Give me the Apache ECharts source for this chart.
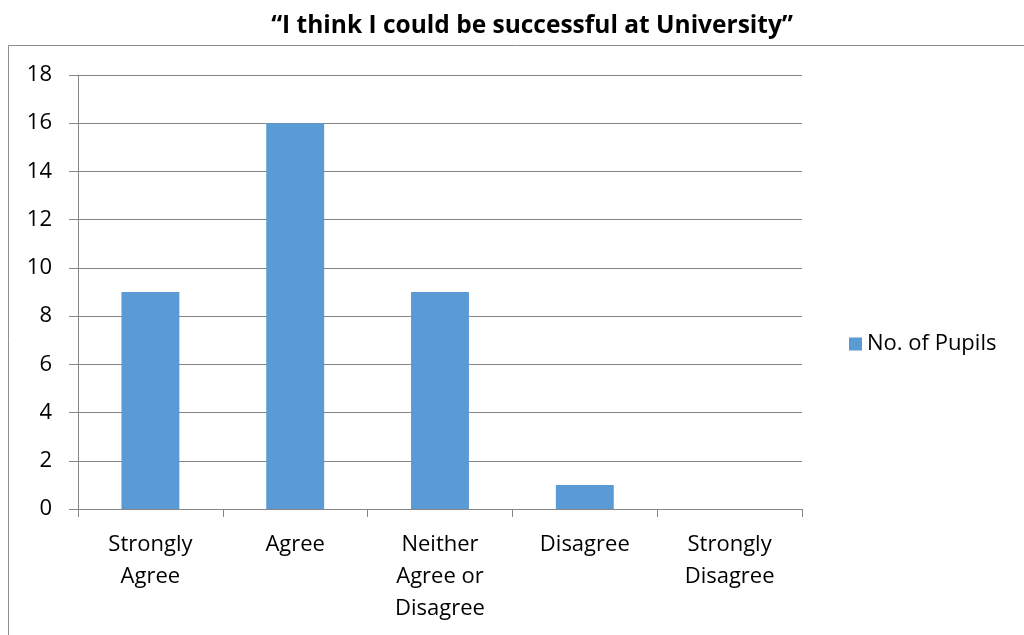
<!DOCTYPE html>
<html><head><meta charset="utf-8">
<script src="https://cdn.jsdelivr.net/npm/echarts@6/dist/echarts.min.js"></script>
<style>html,body{margin:0;padding:0;background:#fff}#c{width:1024px;height:635px}</style>
</head><body><div id="c"></div>
<script>
const categories = ['Strongly\nAgree', 'Agree', 'Neither\nAgree or\nDisagree', 'Disagree', 'Strongly\nDisagree'];
const pupils = [9, 16, 9, 1, 0];
const seriesName = 'No. of Pupils';
const titleText = '\u201cI think I could be successful at University\u201d';

const chart = echarts.init(document.getElementById('c'), null, {renderer: 'canvas'});
const font = '"Open Sans", sans-serif';
chart.setOption({
  animation: false,
  backgroundColor: '#fff',
  title: {
    text: titleText, left: 527, top: 9, textAlign: 'center',
    textStyle: {fontFamily: font, fontSize: 24.5, fontWeight: 'bold', color: '#000'}
  },
  graphic: [
    {type: 'polyline', shape: {points: [[8.5, 640], [8.5, 45.5], [1030, 45.5]]},
     style: {stroke: '#8c8c8c', fill: null, lineWidth: 1}, silent: true}
  ],
  legend: {
    data: [seriesName], left: 844, top: 328, orient: 'vertical',
    icon: 'rect', itemWidth: 13, itemHeight: 13, itemGap: 8,
    textStyle: {fontFamily: font, fontSize: 22, color: '#000'}
  },
  grid: {left: 78, right: 222, top: 75, bottom: 126},
  xAxis: {
    type: 'category', data: categories,
    axisLine: {lineStyle: {color: '#868686'}},
    axisTick: {show: true, length: 8, alignWithLabel: false, lineStyle: {color: '#868686'}},
    axisLabel: {fontFamily: font, fontSize: 22, color: '#000', lineHeight: 32, margin: 20, interval: 0}
  },
  yAxis: {
    type: 'value', min: 0, max: 18, interval: 2,
    axisLine: {show: true, lineStyle: {color: '#868686'}},
    axisTick: {show: true, length: 9, lineStyle: {color: '#868686'}},
    splitLine: {lineStyle: {color: '#868686'}},
    axisLabel: {fontFamily: font, fontSize: 22, color: '#000', margin: 26}
  },
  series: [{
    name: seriesName, type: 'bar', data: pupils,
    barWidth: '40%', itemStyle: {color: '#5b9bd5'}
  }]
});
</script></body></html>
